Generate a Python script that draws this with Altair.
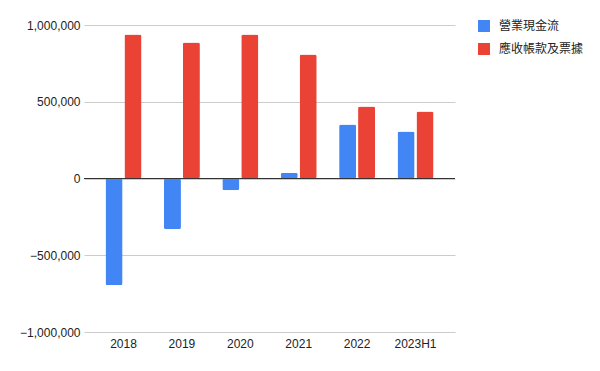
import altair as alt
import pandas as pd

years = ["2018", "2019", "2020", "2021", "2022", "2023H1"]
series_names = ["營業現金流", "應收帳款及票據"]
cash_flow = [-695000, -330000, -76000, 37000, 352000, 306000]
receivables = [938000, 886000, 938000, 808000, 469000, 436000]
colors = ["#4285F4", "#EA4335"]
y_ticks = [-1000000, -500000, 0, 500000, 1000000]

rows = []
for i, y in enumerate(years):
    rows.append({"year": y, "series": series_names[0], "value": cash_flow[i]})
    rows.append({"year": y, "series": series_names[1], "value": receivables[i]})
df = pd.DataFrame(rows)

FONT = "Liberation Sans, Arial, Noto Sans CJK TC"

bars = alt.Chart(df).mark_bar(cornerRadius=2).encode(
    x=alt.X("year:N", sort=years, title=None,
            scale=alt.Scale(paddingInner=0.384, paddingOuter=0.368),
            axis=alt.Axis(labelAngle=0, ticks=False, domain=False, grid=False,
                          labelFontSize=12, labelColor="#222222", labelFont=FONT,
                          labelPadding=6)),
    xOffset=alt.XOffset("series:N", sort=series_names,
                        scale=alt.Scale(paddingInner=0.1, paddingOuter=0)),
    y=alt.Y("value:Q", title=None,
            scale=alt.Scale(domain=[-1000000, 1000000], nice=False),
            axis=alt.Axis(values=y_ticks, format=",d", ticks=False, domain=False,
                          labelFontSize=12, labelColor="#222222", labelFont=FONT,
                          labelPadding=4, gridColor="#cccccc")),
    color=alt.Color("series:N", sort=series_names,
                    scale=alt.Scale(domain=series_names, range=colors),
                    legend=alt.Legend(title=None, orient="none", legendX=394, legendY=-5,
                                      symbolType="square", symbolSize=144,
                                      symbolStrokeWidth=0, labelFontSize=12,
                                      labelFont=FONT, labelColor="#222222",
                                      rowPadding=11, labelOffset=9, padding=0)),
)

zero = alt.Chart(pd.DataFrame({"v": [0]})).mark_rule(color="#333333", strokeWidth=1).encode(
    y=alt.Y("v:Q")
)

chart = alt.layer(bars, zero).properties(
    width=371, height=307,
    background="white",
    autosize=alt.AutoSizeParams(type="none"),
    padding={"left": 76, "top": 17, "right": 134, "bottom": 30},
).configure_axis(
    domain=False, ticks=False
).configure_view(stroke="transparent", strokeWidth=0)

chart.save("out.html", embed_options={"renderer": "svg", "actions": False})
